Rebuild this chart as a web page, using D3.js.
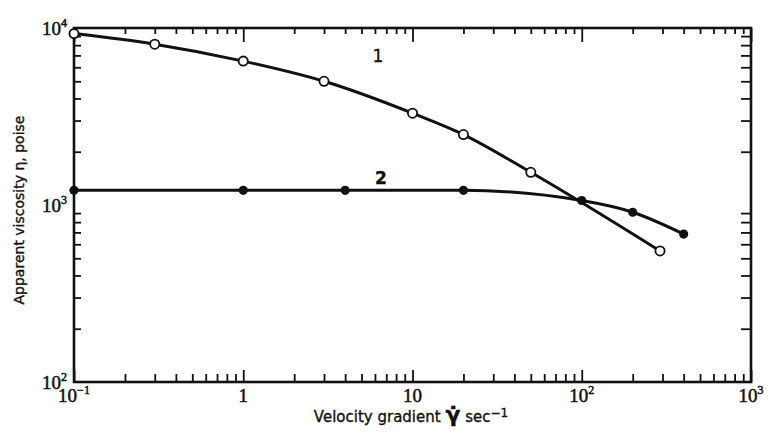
<!DOCTYPE html>
<html>
<head>
<meta charset="utf-8">
<script src="https://cdn.jsdelivr.net/npm/d3@7"></script>
<style>
  body { margin: 0; background: #fff; }
  .tick-lab { font-family: "Liberation Serif", serif; font-size: 19px; fill: #111; stroke: #111; stroke-width: 0.5; }
  .ax-title { font-family: "DejaVu Sans", sans-serif; font-size: 14px; fill: #111; stroke: #111; stroke-width: 0.35; }
</style>
</head>
<body>
<div id="chart"></div>
<script>
// curve 1 (open circles)
var shear1 = [0.1, 0.3, 1, 3, 10, 20, 50, 290];
var visc1 = [9300, 8100, 6500, 5000, 3300, 2500, 1530, 550];
// curve 2 (filled circles)
var shear2 = [0.1, 1, 4, 20, 100, 200, 400];
var visc2 = [1210, 1210, 1210, 1210, 1060, 910, 685];

var xMajor = [0.1, 1, 10, 100, 1000];
var xLabels = [["10", "\u22121"], ["1", ""], ["10", ""], ["10", "2"], ["10", "3"]];
var yMajor = [100, 1000, 10000];
var yLabels = [["10", "2"], ["10", "3"], ["10", "4"]];

var width = 771, height = 440;
var pLeft = 74, pRight = 751, pTop = 28, pBottom = 382;

var svg = d3.select("#chart").append("svg")
  .attr("width", width)
  .attr("height", height);

var x = d3.scaleLog().domain([0.1, 1000]).range([pLeft, pRight]);
var y = d3.scaleLog().domain([100, 10000]).range([pBottom, pTop]);

// minor tick values 2..9 per decade
function minors(lo, hi) {
  var out = [];
  for (var d = lo; d < hi; d *= 10) {
    for (var k = 2; k <= 9; k++) out.push(d * k);
  }
  return out;
}
var xMinor = minors(0.1, 1000);
var yMinor = minors(100, 10000);

function styleAxis(g) {
  g.select(".domain").remove();
  g.selectAll("line").attr("stroke", "#111").attr("stroke-width", 1.8);
}

// minor ticks, all four sides, pointing in
svg.append("g").attr("transform", "translate(0," + pBottom + ")")
  .call(d3.axisBottom(x).tickValues(xMinor).tickSize(-8).tickFormat("")).call(styleAxis);
svg.append("g").attr("transform", "translate(0," + pTop + ")")
  .call(d3.axisTop(x).tickValues(xMinor).tickSize(-6).tickFormat("")).call(styleAxis);
svg.append("g").attr("transform", "translate(" + pLeft + ",0)")
  .call(d3.axisLeft(y).tickValues(yMinor).tickSize(-7).tickFormat("")).call(styleAxis);
svg.append("g").attr("transform", "translate(" + pRight + ",0)")
  .call(d3.axisRight(y).tickValues(yMinor).tickSize(-10).tickFormat("")).call(styleAxis);

// major ticks a bit longer
svg.append("g").attr("transform", "translate(0," + pBottom + ")")
  .call(d3.axisBottom(x).tickValues(xMajor).tickSize(-12).tickFormat("")).call(styleAxis);
svg.append("g").attr("transform", "translate(0," + pTop + ")")
  .call(d3.axisTop(x).tickValues(xMajor).tickSize(-14).tickFormat("")).call(styleAxis);

// frame
svg.append("rect")
  .attr("x", pLeft).attr("y", pTop)
  .attr("width", pRight - pLeft).attr("height", pBottom - pTop)
  .attr("fill", "none").attr("stroke", "#111").attr("stroke-width", 2.6);

// tick labels
xMajor.forEach(function(v, i) {
  var t = svg.append("text").attr("class", "tick-lab")
    .attr("x", x(v)).attr("y", pBottom + 20)
    .attr("text-anchor", "middle");
  t.append("tspan").text(xLabels[i][0]);
  if (xLabels[i][1]) t.append("tspan").attr("dy", -8).style("font-size", "12px").text(xLabels[i][1]);
});
yMajor.forEach(function(v, i) {
  var t = svg.append("text").attr("class", "tick-lab")
    .attr("x", pLeft - 7).attr("y", y(v) + 7)
    .attr("text-anchor", "end");
  t.append("tspan").text(yLabels[i][0]);
  t.append("tspan").attr("dy", -8).style("font-size", "12px").text(yLabels[i][1]);
});

// axis titles
svg.append("text").attr("class", "ax-title")
  .attr("transform", "translate(24,210)rotate(-90)")
  .attr("text-anchor", "middle")
  .text("Apparent viscosity \u03b7, poise");

var xt = svg.append("text").attr("class", "ax-title")
  .style("font-size", "15px")
  .attr("x", 411).attr("y", 422).attr("text-anchor", "middle");
xt.append("tspan").text("Velocity gradient ");
xt.append("tspan").style("font-size", "22px").style("font-weight", "bold").text("\u03b3\u0307");
xt.append("tspan").text(" sec");
xt.append("tspan").attr("dy", -5).style("font-size", "12px").text("\u22121");

// curves
var line = d3.line()
  .x(function(d) { return x(d[0]); })
  .y(function(d) { return y(d[1]); })
  .curve(d3.curveMonotoneX);

var pts1 = d3.zip(shear1, visc1);
var pts2 = d3.zip(shear2, visc2);

[pts1, pts2].forEach(function(pts) {
  svg.append("path").datum(pts)
    .attr("d", line)
    .attr("fill", "none")
    .attr("stroke", "#111")
    .attr("stroke-width", 3);
});

svg.selectAll(".p1").data(pts1).enter().append("circle")
  .attr("cx", function(d) { return x(d[0]); })
  .attr("cy", function(d) { return y(d[1]); })
  .attr("r", 4.6)
  .attr("fill", "#fff").attr("stroke", "#111").attr("stroke-width", 1.8);

svg.selectAll(".p2").data(pts2).enter().append("circle")
  .attr("cx", function(d) { return x(d[0]); })
  .attr("cy", function(d) { return y(d[1]); })
  .attr("r", 4.6)
  .attr("fill", "#111");

// curve numbers
svg.append("text").attr("class", "ax-title").style("font-size", "17px")
  .attr("x", 378).attr("y", 62).attr("text-anchor", "middle").text("1");
svg.append("text").attr("class", "ax-title").style("font-size", "17px").style("font-weight", "bold")
  .attr("x", 381).attr("y", 184).attr("text-anchor", "middle").text("2");
</script>
</body>
</html>
